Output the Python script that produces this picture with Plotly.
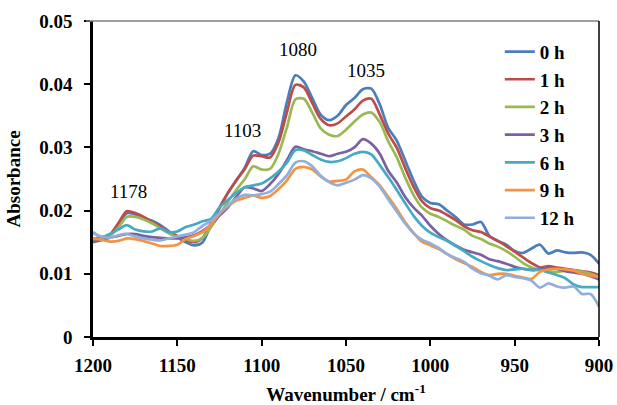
import plotly.graph_objects as go

wavenumber = list(range(1200, 899, -5))

abs_0h = [.0155, .0157, .0162, .0178, .0196, .0194, .0189, .0184, .0177, .0167,
          .0158, .0150, .0145, .0150, .0178, .0205, .0228, .0248, .0268, .0294,
          .0288, .0290, .0315, .0372, .0414, .0404, .0378, .0352, .0343, .0350,
          .0367, .0378, .0392, .0393, .0368, .0331, .0311, .0280, .0248, .0222,
          .0212, .0210, .0200, .0190, .0178, .0178, .0182, .0160, .0152, .0146,
          .0136, .0133, .0140, .0146, .0132, .0137, .0134, .0133, .0134, .0130, .0116]
abs_1h = [.0155, .0157, .0162, .0180, .0199, .0196, .0190, .0182, .0175, .0166,
          .0160, .0153, .0150, .0157, .0180, .0204, .0228, .0248, .0266, .0287,
          .0286, .0284, .0308, .0356, .0399, .0395, .0370, .0345, .0335, .0338,
          .0349, .0360, .0374, .0377, .0352, .0322, .0300, .0268, .0238, .0215,
          .0204, .0200, .0193, .0185, .0175, .0169, .0166, .0159, .0152, .0144,
          .0135, .0126, .0117, .0110, .0112, .0110, .0108, .0106, .0104, .0102, .0098]
abs_2h = [.0153, .0155, .0160, .0173, .0190, .0190, .0186, .0180, .0172, .0164,
          .0158, .0155, .0152, .0157, .0174, .0194, .0214, .0233, .0250, .0270,
          .0265, .0266, .0290, .0332, .0376, .0377, .0355, .0330, .0320, .0318,
          .0328, .0341, .0352, .0355, .0340, .0310, .0285, .0253, .0225, .0205,
          .0195, .0190, .0183, .0176, .0170, .0160, .0155, .0148, .0143, .0136,
          .0127, .0117, .0110, .0106, .0104, .0103, .0105, .0106, .0103, .0100, .0095]
abs_3h = [.0150, .0153, .0157, .0160, .0163, .0163, .0160, .0158, .0157, .0156,
          .0156, .0158, .0161, .0168, .0178, .0192, .0205, .0222, .0237, .0235,
          .0231, .0242, .0258, .0280, .0301, .0297, .0294, .0290, .0286, .0290,
          .0293, .0300, .0313, .0306, .0290, .0263, .0245, .0222, .0205, .0192,
          .0176, .0163, .0153, .0145, .0138, .0134, .0130, .0123, .0120, .0116,
          .0111, .0108, .0106, .0107, .0110, .0108, .0104, .0102, .0100, .0096, .0091]
abs_6h = [.0166, .0158, .0163, .0170, .0177, .0170, .0167, .0167, .0172, .0166,
          .0167, .0174, .0178, .0183, .0187, .0205, .0217, .0228, .0237, .0240,
          .0243, .0251, .0262, .0276, .0296, .0295, .0288, .0281, .0277, .0278,
          .0283, .0290, .0293, .0289, .0272, .0253, .0233, .0212, .0192, .0176,
          .0165, .0158, .0152, .0144, .0136, .0127, .0120, .0114, .0109, .0106,
          .0107, .0108, .0106, .0106, .0102, .0098, .0093, .0083, .0079, .0079, .0079]
abs_9h = [.0156, .0154, .0151, .0152, .0156, .0155, .0152, .0148, .0144, .0144,
          .0146, .0155, .0160, .0166, .0178, .0195, .0207, .0216, .0220, .0224,
          .0220, .0223, .0234, .0248, .0266, .0269, .0265, .0254, .0246, .0247,
          .0249, .0262, .0265, .0253, .0240, .0222, .0203, .0182, .0165, .0151,
          .0145, .0139, .0131, .0123, .0117, .0111, .0103, .0098, .0100, .0100,
          .0097, .0094, .0092, .0103, .0107, .0108, .0107, .0105, .0100, .0097, .0095]
abs_12h = [.0164, .0159, .0157, .0161, .0163, .0159, .0156, .0154, .0153, .0156,
           .0159, .0162, .0166, .0176, .0184, .0196, .0208, .0219, .0225, .0224,
           .0226, .0230, .0242, .0256, .0276, .0278, .0270, .0255, .0245, .0240,
           .0244, .0249, .0256, .0251, .0238, .0218, .0199, .0180, .0164, .0154,
           .0148, .0141, .0131, .0125, .0119, .0108, .0101, .0097, .0091, .0098,
           .0095, .0093, .0089, .0078, .0085, .0080, .0078, .0080, .0068, .0068, .0048]

series_names = ["0 h", "1 h", "2 h", "3 h", "6 h", "9 h", "12 h"]
series_values = [abs_0h, abs_1h, abs_2h, abs_3h, abs_6h, abs_9h, abs_12h]
series_colors = ["#4A7EBB", "#BE4B48", "#98B954", "#7D60A0", "#46AAC5", "#F69240", "#92AEDB"]

x_ticks = [1200, 1150, 1100, 1050, 1000, 950, 900]
y_ticks = [0, 0.01, 0.02, 0.03, 0.04, 0.05]
y_tick_labels = ["0", "0.01", "0.02", "0.03", "0.04", "0.05"]

peak_labels = ["1178", "1103", "1080", "1035"]
peak_label_x = [1178.7, 1111.2, 1078.6, 1038.3]
peak_label_y = [0.0230, 0.0327, 0.0455, 0.0421]

FONT = "Times New Roman, Tinos, Liberation Serif, DejaVu Serif, serif"

fig = go.Figure()
for name, vals, col in zip(series_names, series_values, series_colors):
    fig.add_trace(go.Scatter(x=wavenumber, y=vals, mode="lines", name=name,
                             line=dict(color=col, width=2.7, shape="spline", smoothing=0.8)))

for txt, xv, yv in zip(peak_labels, peak_label_x, peak_label_y):
    fig.add_annotation(x=xv, y=yv, text=txt, showarrow=False,
                       font=dict(family=FONT, size=19, color="black"))

# frame: top (gray) and right (black) borders
fig.add_shape(type="line", xref="paper", yref="paper", x0=-0.014, x1=1, y0=1, y1=1,
              line=dict(color="#7F7F7F", width=1.5))
fig.add_shape(type="line", xref="paper", yref="paper", x0=1, x1=1, y0=0, y1=1,
              line=dict(color="black", width=1.5))

fig.update_layout(
    width=617, height=405,
    margin=dict(l=93, r=18, t=21, b=68, autoexpand=False),
    paper_bgcolor="white", plot_bgcolor="white",
    font=dict(family=FONT, color="black"),
    showlegend=True,
    legend=dict(x=0.804, y=0.963, xanchor="left", yanchor="top",
                font=dict(family=FONT, size=19, color="black", weight="bold"),
                bgcolor="rgba(0,0,0,0)", borderwidth=0, tracegroupgap=0),
    xaxis=dict(range=[1200, 900], tickvals=x_ticks, ticktext=[str(v) for v in x_ticks],
               automargin=False,
               showline=True, linecolor="black", linewidth=2.5, mirror=False,
               ticks="outside", ticklen=6, tickwidth=2, tickcolor="black",
               showgrid=False, zeroline=False,
               tickfont=dict(family=FONT, size=19, color="black", weight="bold"),
               ticklabelstandoff=3,
               title=dict(text="Wavenumber / cm<sup>-1</sup>", standoff=15,
                          font=dict(family=FONT, size=19, color="black", weight="bold"))),
    yaxis=dict(range=[0, 0.05], tickvals=y_ticks, ticktext=y_tick_labels,
               automargin=False,
               showline=True, linecolor="black", linewidth=2.5,
               ticks="outside", ticklen=6, tickwidth=2, tickcolor="black",
               showgrid=False, zeroline=False,
               tickfont=dict(family=FONT, size=19, color="black", weight="bold"),
               ticklabelstandoff=8,
               title=dict(text="Absorbance", standoff=14,
                          font=dict(family=FONT, size=19, color="black", weight="bold"))),
)

fig.write_html("out.html")
